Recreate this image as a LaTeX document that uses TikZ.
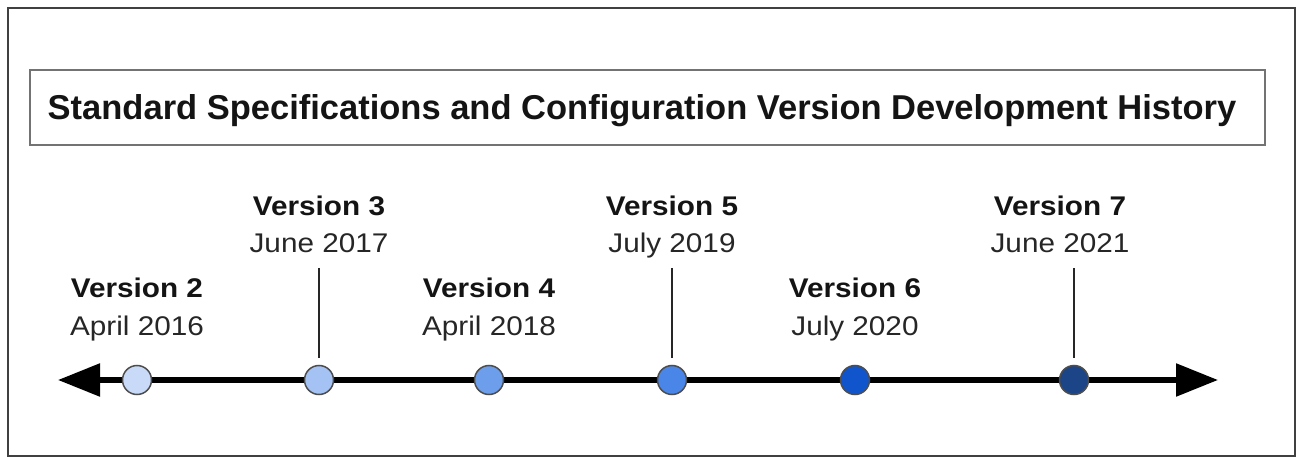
\documentclass[tikz,border=0pt]{standalone}
\usepackage{fontspec}
\setmainfont{Liberation Sans}
\newfontfamily\lblfont[FakeStretch=1.1]{Liberation Sans}
\usetikzlibrary{arrows.meta}
\definecolor{cA}{HTML}{C9DAF8}
\definecolor{cB}{HTML}{A4C2F4}
\definecolor{cC}{HTML}{6D9EEB}
\definecolor{cD}{HTML}{4A86E8}
\definecolor{cE}{HTML}{1155CC}
\definecolor{cF}{HTML}{1C4587}
\definecolor{ringc}{HTML}{4D4D4D}
\tikzset{
  dot/.style={circle, draw=ringc, line width=1.5pt, minimum size=29pt, inner sep=0pt},
  vname/.style={anchor=base, inner sep=0pt, font=\lblfont\fontsize{27}{32}\selectfont\bfseries, text=black!92},
  vdate/.style={anchor=base, inner sep=0pt, font=\lblfont\fontsize{27}{32}\selectfont, text=black!85},
  tickline/.style={line width=2.5pt, draw=black!85},
  axis/.style={line width=5.5pt, {Triangle[length=42pt,width=32pt]}-{Triangle[length=42pt,width=32pt]}},
}
\begin{document}
\begin{tikzpicture}[x=1pt,y=-1pt]
\useasboundingbox (0,0) rectangle (1299,457);
% outer frame
\draw[line width=2pt, draw=black!75] (8,8) rectangle (1295,456);
% title box
\node[draw=black!55, line width=2pt, minimum width=1235pt, minimum height=75pt, inner sep=0pt] (title) at (647.5,107.5) {};
\node[anchor=base, inner sep=0pt, font=\fontsize{34.5}{40}\selectfont\bfseries, text=black!92] (titletext) at (642,119.5) {Standard Specifications and Configuration Version Development History};
% axis
\coordinate (L) at (58,380);
\coordinate (R) at (1218,380);
\draw[axis] (L) -- (R);
% dots
\node[dot, fill=cA] (d2) at (137,380) {};
\node[dot, fill=cB] (d3) at (319,380) {};
\node[dot, fill=cC] (d4) at (489,380) {};
\node[dot, fill=cD] (d5) at (672,380) {};
\node[dot, fill=cE] (d6) at (855,380) {};
\node[dot, fill=cF] (d7) at (1074,380) {};
% ticks
\coordinate (t3) at (319,268);
\coordinate (t5) at (672,268);
\coordinate (t7) at (1074,268);
\draw[tickline, shorten >=7pt] (t3) -- (d3);
\draw[tickline, shorten >=7pt] (t5) -- (d5);
\draw[tickline, shorten >=7pt] (t7) -- (d7);
% labels
\node[vname] (n2) at (137,298) {Version 2};
\node[vdate] (a2) at (137,335) {April 2016};
\node[vname] (n3) at (319,216) {Version 3};
\node[vdate] (a3) at (319,252.5) {June 2017};
\node[vname] (n4) at (489,298) {Version 4};
\node[vdate] (a4) at (489,335) {April 2018};
\node[vname] (n5) at (672,216) {Version 5};
\node[vdate] (a5) at (672,252.5) {July 2019};
\node[vname] (n6) at (855,298) {Version 6};
\node[vdate] (a6) at (855,335) {July 2020};
\node[vname] (n7) at (1060,216) {Version 7};
\node[vdate] (a7) at (1060,252.5) {June 2021};
\end{tikzpicture}
\end{document}
